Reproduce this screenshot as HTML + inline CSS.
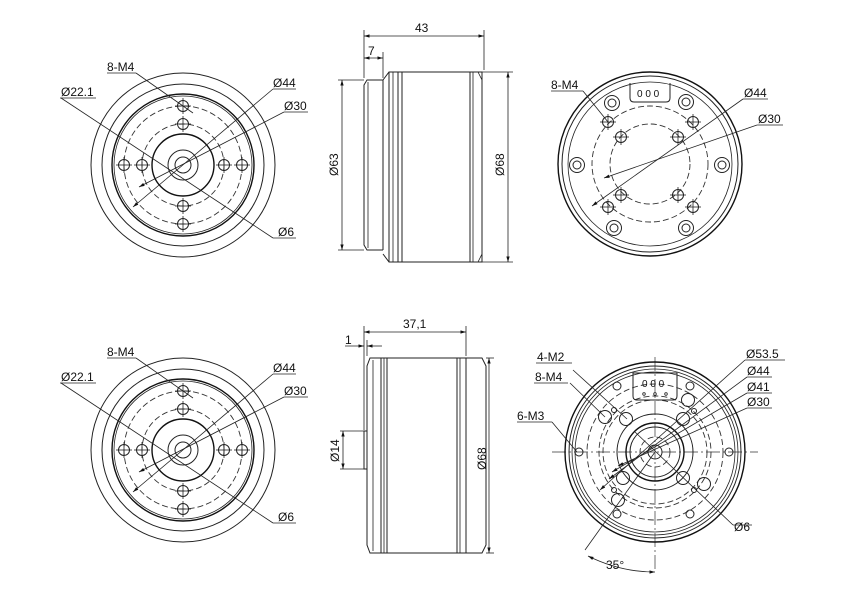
<!DOCTYPE html>
<html><head><meta charset="utf-8"><style>
html,body{margin:0;padding:0;background:#fff;width:850px;height:610px;overflow:hidden}
svg{display:block}
text{font-family:"Liberation Sans",Arial,sans-serif;font-size:12px;fill:#111}
.s{stroke:#222;fill:none;stroke-width:1}
.t{stroke:#222;fill:none;stroke-width:0.8}
.b{stroke:#111;fill:none;stroke-width:1.4}
.d{stroke:#333;fill:none;stroke-width:0.9;stroke-dasharray:6 3}
.c{stroke:#333;fill:none;stroke-width:0.7;stroke-dasharray:14 3 2 3}
</style></head><body>
<svg width="850" height="610" viewBox="0 0 850 610" xmlns="http://www.w3.org/2000/svg">
<defs>
<marker id="a" viewBox="0 0 10 10" refX="10" refY="5" markerWidth="7" markerHeight="7" orient="auto-start-reverse"><path d="M0,2 L10,5 L0,8z" fill="#111"/></marker>
<g id="hole"><circle r="5.5" class="s"/><line x1="-8" y1="0" x2="8" y2="0" class="t"/><line x1="0" y1="-8" x2="0" y2="8" class="t"/></g>
<g id="front">
<circle r="92" class="s"/><circle r="81" class="s"/><circle r="71" class="b"/><circle r="69" class="t"/>
<circle r="59" class="d"/><circle r="41" class="d"/>
<circle r="31" class="b"/><circle r="15" class="s"/><circle r="8" class="s"/>
<use href="#hole" x="0" y="-59"/><use href="#hole" x="0" y="-41"/><use href="#hole" x="0" y="41"/><use href="#hole" x="0" y="59"/>
<use href="#hole" x="-59" y="0"/><use href="#hole" x="-41" y="0"/><use href="#hole" x="41" y="0"/><use href="#hole" x="59" y="0"/>
<line x1="-122" y1="-67" x2="90" y2="73" class="t"/>
<line x1="-47" y1="-92" x2="10" y2="-52" class="t"/>
<line x1="90" y1="-76" x2="-50" y2="42" class="t" marker-end="url(#a)"/>
<line x1="101" y1="-53" x2="-44" y2="22" class="t" marker-end="url(#a)"/>
</g>
</defs>

<g transform="translate(183,165)"><use href="#front"/></g>
<g transform="translate(183,450)"><use href="#front"/></g>
<g class="t">
<line x1="107" y1="73" x2="136" y2="73"/><line x1="60" y1="98" x2="96" y2="98"/>
<line x1="273" y1="89" x2="296" y2="89"/><line x1="284" y1="112" x2="308" y2="112"/>
<line x1="273" y1="238" x2="296" y2="238"/>
<line x1="107" y1="358" x2="136" y2="358"/><line x1="60" y1="383" x2="96" y2="383"/>
<line x1="273" y1="374" x2="296" y2="374"/><line x1="284" y1="397" x2="308" y2="397"/>
<line x1="273" y1="523" x2="296" y2="523"/>
</g>
<text x="107" y="71">8-M4</text><text x="61" y="96">Ø22.1</text><text x="273" y="87">Ø44</text><text x="284" y="110">Ø30</text><text x="278" y="236">Ø6</text>
<text x="107" y="356">8-M4</text><text x="61" y="381">Ø22.1</text><text x="273" y="372">Ø44</text><text x="284" y="395">Ø30</text><text x="278" y="521">Ø6</text>

<g class="s">
<path d="M383,80 L367,80 L364,85 L364,245 L367,250 L383,250"/>
<line x1="368" y1="82" x2="368" y2="248" class="t"/>
<path d="M383,250 L383,80 L389,72 L482,72 L482,262 L389,262 L383,254"/>
<line x1="389" y1="72" x2="389" y2="262"/><line x1="393" y1="72" x2="393" y2="262" class="t"/>
<line x1="398" y1="72" x2="398" y2="262"/><line x1="402" y1="72" x2="402" y2="262"/>
<line x1="470" y1="72" x2="470" y2="262"/><line x1="473" y1="72" x2="473" y2="262" class="t"/>
<path d="M478,72 L482,80 L482,254 L478,262" class="t"/>
</g>
<g class="t">
<line x1="364" y1="30" x2="364" y2="78"/><line x1="484" y1="30" x2="484" y2="70"/>
<line x1="364" y1="36" x2="484" y2="36" marker-start="url(#a)" marker-end="url(#a)"/>
<line x1="383" y1="52" x2="383" y2="78"/>
<line x1="364" y1="58" x2="383" y2="58" marker-start="url(#a)" marker-end="url(#a)"/>
<line x1="338" y1="80" x2="364" y2="80"/><line x1="338" y1="250" x2="364" y2="250"/>
<line x1="342" y1="80" x2="342" y2="250" marker-start="url(#a)" marker-end="url(#a)"/>
<line x1="482" y1="72" x2="513" y2="72"/><line x1="482" y1="262" x2="513" y2="262"/>
<line x1="508" y1="72" x2="508" y2="262" marker-start="url(#a)" marker-end="url(#a)"/>
</g>
<text x="415" y="32">43</text><text x="368" y="55">7</text>
<text transform="translate(338,176) rotate(-90)">Ø63</text>
<text transform="translate(504,176) rotate(-90)">Ø68</text>

<g class="s">
<path d="M370,358 L482,358 L486,366 L486,545 L482,553 L370,553 L367,545 L367,366 Z"/>
<line x1="373" y1="360" x2="373" y2="551" class="t"/>
<line x1="381" y1="358" x2="381" y2="553"/><line x1="384" y1="358" x2="384" y2="553" class="t"/>
<line x1="387" y1="358" x2="387" y2="553"/>
<line x1="457" y1="358" x2="457" y2="553"/><line x1="460" y1="358" x2="460" y2="553" class="t"/>
<line x1="466" y1="358" x2="466" y2="553"/>
<path d="M367,431 L364,431 L364,469 L367,469"/>
</g>
<g class="t">
<line x1="364" y1="326" x2="364" y2="430"/><line x1="466" y1="326" x2="466" y2="356"/>
<line x1="364" y1="332" x2="466" y2="332" marker-start="url(#a)" marker-end="url(#a)"/>
<line x1="367" y1="340" x2="367" y2="356"/>
<line x1="345" y1="346" x2="364" y2="346" marker-end="url(#a)"/><line x1="382" y1="346" x2="367" y2="346" marker-end="url(#a)"/>
<line x1="340" y1="431" x2="364" y2="431"/><line x1="340" y1="469" x2="364" y2="469"/>
<line x1="343" y1="431" x2="343" y2="469" marker-start="url(#a)" marker-end="url(#a)"/>
<line x1="486" y1="358" x2="494" y2="358"/><line x1="486" y1="553" x2="494" y2="553"/>
<line x1="489" y1="358" x2="489" y2="553" marker-start="url(#a)" marker-end="url(#a)"/>
</g>
<text x="403" y="328">37,1</text><text x="345" y="344">1</text>
<text transform="translate(339,462) rotate(-90)">Ø14</text>
<text transform="translate(486,470) rotate(-90)">Ø68</text>

<g transform="translate(650,164)">
<circle r="92" class="b"/><circle r="88" class="s"/><circle r="82" class="t"/>
<circle r="58" class="d"/><circle r="40" class="d"/>
<path d="M-20,-81 L-20,-66 Q-20,-62 -16,-62 L16,-62 Q20,-62 20,-66 L20,-81" class="s"/>
<text x="-13" y="-67" style="font-size:10px">0 0 0</text>
<g class="s">
<circle cx="-38" cy="-61" r="7.5"/><circle cx="-38" cy="-61" r="4"/>
<circle cx="36" cy="-62" r="7.5"/><circle cx="36" cy="-62" r="4"/>
<circle cx="-73" cy="1" r="7.5"/><circle cx="-73" cy="1" r="4"/>
<circle cx="72" cy="1" r="7.5"/><circle cx="72" cy="1" r="4"/>
<circle cx="-36" cy="64" r="7.5"/><circle cx="-36" cy="64" r="4"/>
<circle cx="36" cy="64" r="7.5"/><circle cx="36" cy="64" r="4"/>
</g>
<use href="#hole" x="-42" y="-42"/><use href="#hole" x="43" y="-42"/><use href="#hole" x="-42" y="43"/><use href="#hole" x="43" y="43"/>
<use href="#hole" x="-29" y="-27"/><use href="#hole" x="28" y="-27"/><use href="#hole" x="-29" y="31"/><use href="#hole" x="28" y="31"/>
<line x1="93" y1="-65" x2="-58" y2="42" class="t" marker-end="url(#a)"/>
<line x1="107" y1="-39" x2="-46" y2="14" class="t" marker-end="url(#a)"/>
<line x1="-67" y1="-73" x2="-42" y2="-42" class="t"/>
</g>
<g class="t"><line x1="551" y1="91" x2="583" y2="91"/><line x1="743" y1="99" x2="768" y2="99"/><line x1="757" y1="125" x2="783" y2="125"/></g>
<text x="551" y="89">8-M4</text><text x="744" y="97">Ø44</text><text x="758" y="123">Ø30</text>

<g transform="translate(655,452)">
<line x1="-103" y1="0" x2="103" y2="0" class="c"/><line x1="0" y1="-95" x2="0" y2="118" class="c"/>
<circle r="90" class="b"/><circle r="86" class="s"/><circle r="83" class="t"/><circle r="80" class="t"/>
<circle r="68" class="d"/><circle r="56" class="d"/><circle r="52" class="d"/><circle r="38" class="s"/>
<circle r="29" class="b"/><circle r="25" class="s"/><circle r="15" class="d"/><circle r="7" class="s"/>
<path d="M-22,-79 L22,-79 L22,-56 Q22,-52 18,-52 L-18,-52 Q-22,-52 -22,-56 Z" class="s" fill="#fff"/>
<text x="-13" y="-65" style="font-size:10px">0 0 0</text>
<g class="t"><circle cx="-11" cy="-58" r="1.3"/><circle cx="0" cy="-58" r="1.3"/><circle cx="11" cy="-58" r="1.3"/></g>
<g class="s">
<circle cx="-38" cy="-66" r="4"/><circle cx="35" cy="-66" r="4"/><circle cx="-76" cy="0" r="4"/><circle cx="74" cy="0" r="4"/><circle cx="-38" cy="62" r="4"/><circle cx="35" cy="62" r="4"/>
<circle cx="-29" cy="-33" r="6.5"/><circle cx="28" cy="-33" r="6.5"/><circle cx="-32" cy="26" r="6.5"/><circle cx="28" cy="26" r="6.5"/>
<circle cx="-50" cy="-35" r="6.5"/><circle cx="33" cy="-52" r="6.5"/><circle cx="-37" cy="48" r="6.5"/><circle cx="49" cy="32" r="6.5"/>
<circle cx="-41" cy="-42" r="2.5"/><circle cx="39" cy="-41" r="2.5"/><circle cx="-41" cy="38" r="2.5"/><circle cx="39" cy="38" r="2.5"/>
</g>
<line x1="-70" y1="98" x2="0" y2="0" class="t"/>
<line x1="90" y1="-92" x2="-55" y2="38" class="t" marker-end="url(#a)"/>
<line x1="92" y1="-75" x2="-46" y2="27" class="t" marker-end="url(#a)"/>
<line x1="92" y1="-59" x2="-43" y2="20" class="t" marker-end="url(#a)"/>
<line x1="92" y1="-44" x2="-37" y2="14" class="t" marker-end="url(#a)"/>
<line x1="78" y1="73" x2="-20" y2="-20" class="t"/>
<line x1="-82" y1="-82" x2="-28" y2="-33" class="t"/>
<line x1="-85" y1="-69" x2="-50" y2="-35" class="t"/>
<line x1="-103" y1="-30" x2="-78" y2="0" class="t"/>
<path d="M-67,104 Q-35,120 0,120" class="t" marker-start="url(#a)" marker-end="url(#a)"/>
</g>
<g class="t">
<line x1="536" y1="363" x2="572" y2="363"/><line x1="534" y1="383" x2="568" y2="383"/><line x1="517" y1="422" x2="552" y2="422"/>
<line x1="745" y1="360" x2="785" y2="360"/><line x1="747" y1="377" x2="772" y2="377"/><line x1="747" y1="393" x2="772" y2="393"/><line x1="747" y1="408" x2="772" y2="408"/>
<line x1="733" y1="525" x2="752" y2="525"/>
</g>
<text x="537" y="361">4-M2</text><text x="535" y="381">8-M4</text><text x="517" y="420">6-M3</text>
<text x="746" y="358">Ø53.5</text><text x="747" y="375">Ø44</text><text x="747" y="391">Ø41</text><text x="747" y="406">Ø30</text>
<text x="734" y="531">Ø6</text><text x="606" y="569">35°</text>
</svg>
</body></html>
